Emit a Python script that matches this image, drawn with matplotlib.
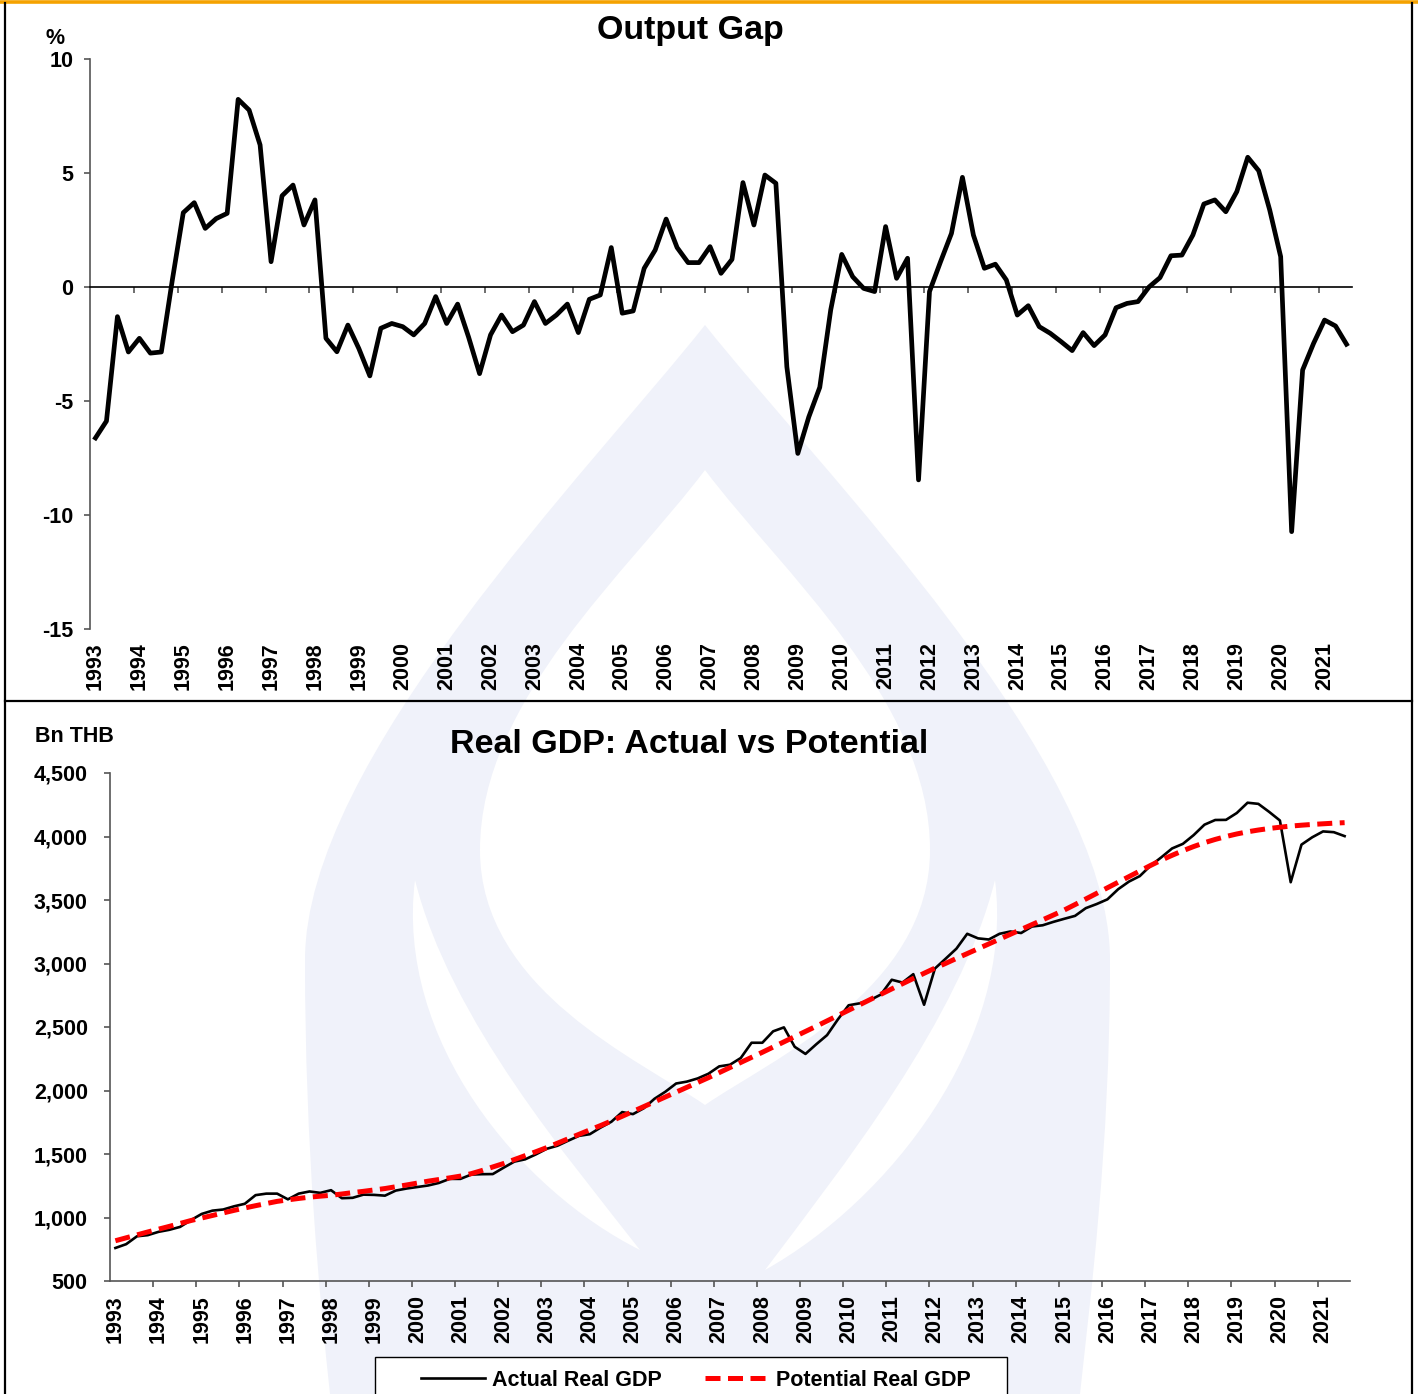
import numpy as np
import matplotlib
matplotlib.use('Agg')
import matplotlib.pyplot as plt
from matplotlib.path import Path
from matplotlib.patches import PathPatch, Rectangle
import matplotlib.transforms as mtransforms
from matplotlib.ticker import FuncFormatter

plt.rcParams['font.family'] = ['Liberation Sans', 'DejaVu Sans']
plt.rcParams['font.weight'] = 'bold'

# ---------------- data (quarterly, 1993Q1 - 2021Q3) ----------------
years = [str(y) for y in range(1993, 2022)]

output_gap = [
    -6.62, -5.88, -1.30, -2.85, -2.25, -2.90, -2.85, 0.30, 3.26, 3.70,
    2.57, 3.00, 3.23, 8.23, 7.76, 6.23, 1.11, 4.00, 4.47, 2.72,
    3.82, -2.25, -2.84, -1.67, -2.70, -3.90, -1.81, -1.60, -1.74, -2.10,
    -1.60, -0.42, -1.60, -0.75, -2.20, -3.80, -2.10, -1.23, -1.96, -1.67,
    -0.64, -1.60, -1.23, -0.75, -2.00, -0.54, -0.35, 1.73, -1.15, -1.05,
    0.82, 1.62, 2.98, 1.73, 1.07, 1.07, 1.77, 0.60, 1.21, 4.58,
    2.72, 4.91, 4.55, -3.50, -7.30, -5.70, -4.40, -1.00, 1.43, 0.45,
    -0.06, -0.20, 2.65, 0.38, 1.26, -8.46, -0.20, 1.10, 2.35, 4.81,
    2.28, 0.82, 1.00, 0.31, -1.23, -0.82, -1.74, -2.03, -2.40, -2.79,
    -2.00, -2.57, -2.10, -0.91, -0.72, -0.64, 0.00, 0.41, 1.37, 1.40,
    2.28, 3.64, 3.82, 3.30, 4.18, 5.69, 5.10, 3.38, 1.33, -10.73,
    -3.64, -2.47, -1.45, -1.71, -2.51,
]

potential_gdp = [
    817, 840, 863, 886, 908, 930, 953, 976, 996, 1016,
    1036, 1056, 1075, 1093, 1110, 1127, 1139, 1150, 1160, 1168,
    1175, 1185, 1196, 1206, 1217, 1228, 1242, 1256, 1271, 1286,
    1299, 1312, 1326, 1345, 1370, 1398, 1425, 1456, 1487, 1518,
    1550, 1585, 1620, 1655, 1690, 1724, 1760, 1797, 1835, 1873,
    1911, 1949, 1987, 2025, 2063, 2101, 2141, 2181, 2221, 2261,
    2301, 2342, 2383, 2424, 2465, 2506, 2548, 2590, 2632, 2674,
    2716, 2758, 2800, 2841, 2882, 2923, 2963, 3001, 3040, 3078,
    3116, 3154, 3192, 3230, 3268, 3306, 3344, 3382, 3421, 3464,
    3508, 3552, 3596, 3640, 3684, 3728, 3772, 3814, 3852, 3888,
    3921, 3951, 3977, 4000, 4020, 4037, 4051, 4063, 4073, 4082,
    4089, 4095, 4100, 4105, 4109,
]

actual_gdp = [
    760, 790, 852, 861, 887, 903, 926, 979, 1028, 1054,
    1063, 1088, 1108, 1176, 1188, 1188, 1143, 1188, 1205, 1194,
    1215, 1152, 1155, 1180, 1178, 1172, 1212, 1228, 1240, 1252,
    1272, 1304, 1304, 1338, 1341, 1342, 1392, 1440, 1458, 1497,
    1541, 1565, 1605, 1643, 1656, 1708, 1754, 1830, 1814, 1860,
    1935, 1990, 2055, 2070, 2095, 2132, 2190, 2203, 2256, 2376,
    2376, 2466, 2497, 2344, 2288, 2364, 2436, 2559, 2671, 2686,
    2712, 2756, 2872, 2850, 2916, 2675, 2960, 3038, 3117, 3234,
    3198, 3189, 3234, 3252, 3240, 3291, 3301, 3328, 3352, 3375,
    3436, 3468, 3505, 3585, 3645, 3688, 3770, 3836, 3906, 3942,
    4011, 4093, 4130, 4131, 4185, 4266, 4257, 4194, 4126, 3640,
    3936, 3994, 4040, 4034, 4003,
]

n = len(output_gap)
xq = np.arange(n)
label_pos = np.arange(0, n, 4)
boundaries = np.arange(3.5, n - 1, 4)

W, H = 1418, 1394
fig = plt.figure(figsize=(W / 100, H / 100), dpi=100)
fig.patch.set_facecolor('white')


def fx(px):
    return px / W


def fy(py):
    return 1 - py / H


# ---------------- background: watermark + frame ----------------
bg = fig.add_axes([0, 0, 1, 1], zorder=0)
bg.set_xlim(0, W)
bg.set_ylim(H, 0)
bg.axis('off')

WM = '#F0F2FA'
C4 = Path.CURVE4
outer = Path(
    [(705, 325), (820, 470), (1110, 760), (1110, 960),
     (1110, 1150), (1090, 1300), (1080, 1394),
     (330, 1394),
     (320, 1300), (305, 1150), (305, 960),
     (305, 760), (590, 470), (705, 325), (705, 325)],
    [Path.MOVETO, C4, C4, C4, C4, C4, C4, Path.LINETO, C4, C4, C4, C4, C4, C4,
     Path.CLOSEPOLY])
bg.add_patch(PathPatch(outer, facecolor=WM, edgecolor='none'))

inner = Path(
    [(705, 470), (780, 570), (930, 700), (930, 850),
     (930, 990), (770, 1060), (705, 1105),
     (640, 1060), (480, 990), (480, 850),
     (480, 700), (630, 570), (705, 470), (705, 470)],
    [Path.MOVETO, C4, C4, C4, C4, C4, C4, C4, C4, C4, C4, C4, C4,
     Path.CLOSEPOLY])
bg.add_patch(PathPatch(inner, facecolor='white', edgecolor='none'))

left_arm = Path(
    [(415, 880), (395, 1040), (520, 1190), (640, 1250),
     (570, 1160), (450, 1020), (415, 880), (415, 880)],
    [Path.MOVETO, C4, C4, C4, C4, C4, C4, Path.CLOSEPOLY])
right_arm = Path(
    [(995, 880), (1015, 1040), (890, 1200), (765, 1270),
     (840, 1170), (960, 1020), (995, 880), (995, 880)],
    [Path.MOVETO, C4, C4, C4, C4, C4, C4, Path.CLOSEPOLY])
bg.add_patch(PathPatch(left_arm, facecolor='white', edgecolor='none'))
bg.add_patch(PathPatch(right_arm, facecolor='white', edgecolor='none'))

bg.plot([0, W], [1.5, 1.5], color='#F5A200', lw=2.6, solid_capstyle='butt')
bg.plot([5, 5], [3, H], color='black', lw=1.6)
bg.plot([1412, 1412], [3, H], color='black', lw=1.6)
bg.plot([5, 1412], [701, 701], color='black', lw=1.6)

SPINE = '#555555'
FS = 15.5

# ---------------- top panel: output gap ----------------
ax1 = fig.add_axes([fx(90), fy(629), fx(1352) - fx(90), (629 - 59) / H], zorder=2)
ax1.set_facecolor('none')
ax1.plot(xq, output_gap, color='black', lw=3.4, solid_joinstyle='round')
ax1.set_xlim(-0.5, n - 0.5)
ax1.set_ylim(-15, 10)
ax1.set_yticks(range(-15, 11, 5))
ax1.set_yticklabels([str(v) for v in range(-15, 11, 5)])
for s in ('top', 'right'):
    ax1.spines[s].set_visible(False)
ax1.spines['left'].set_color(SPINE)
ax1.spines['left'].set_linewidth(1.2)
ax1.spines['bottom'].set_position(('data', 0))
ax1.spines['bottom'].set_color('black')
ax1.spines['bottom'].set_linewidth(1.2)
ax1.set_xticks([])
ax1.set_xticks(boundaries, minor=True)
ax1.tick_params(axis='x', which='minor', direction='out', length=4, width=1.2,
                color=SPINE, labelbottom=False)
ax1.tick_params(axis='y', direction='out', length=4, width=1.2, color=SPINE,
                labelsize=FS, pad=8)
trans1 = mtransforms.blended_transform_factory(ax1.transData, ax1.transAxes)
for p, yr in zip(label_pos, years):
    ax1.text(p, -13 / 570, yr, transform=trans1, rotation=90, ha='center',
             va='top', fontsize=FS, fontweight='bold')

fig.text(fx(690), fy(39), 'Output Gap', ha='center', va='baseline',
         fontsize=24.5, fontweight='bold')
fig.text(fx(55), fy(38), '%', ha='center', va='center', fontsize=FS,
         fontweight='bold')

# ---------------- bottom panel: real GDP ----------------
ax2 = fig.add_axes([fx(110), fy(1281), fx(1350) - fx(110), (1281 - 773) / H], zorder=2)
ax2.set_facecolor('none')
l1, = ax2.plot(xq, actual_gdp, color='black', lw=1.9, label='Actual Real GDP')
l2, = ax2.plot(xq, potential_gdp, color='#FF0000', lw=3.6, dashes=(3, 1.5),
               label='Potential Real GDP')
ax2.set_xlim(-0.5, n - 0.5)
ax2.set_ylim(500, 4500)
ax2.set_yticks(range(500, 4501, 500))
ax2.yaxis.set_major_formatter(FuncFormatter(lambda v, p: f'{int(v):,}'))
for s in ('top', 'right'):
    ax2.spines[s].set_visible(False)
for s in ('left', 'bottom'):
    ax2.spines[s].set_color(SPINE)
    ax2.spines[s].set_linewidth(1.2)
ax2.set_xticks(label_pos)
ax2.set_xticklabels(years, rotation=90)
ax2.set_xticks(boundaries, minor=True)
ax2.tick_params(axis='x', which='major', length=0, pad=10, labelsize=FS)
ax2.tick_params(axis='x', which='minor', direction='out', length=4, width=1.2,
                color=SPINE)
ax2.tick_params(axis='y', direction='out', length=4, width=1.2, color=SPINE,
                labelsize=FS, pad=12)

fig.text(fx(689), fy(753), 'Real GDP: Actual vs Potential', ha='center',
         va='baseline', fontsize=24.5, fontweight='bold')
fig.text(fx(35), fy(736), 'Bn THB', ha='left', va='center', fontsize=FS,
         fontweight='bold')

# legend
bg.add_patch(Rectangle((375, 1357), 632, 60, facecolor='white',
                       edgecolor='black', lw=1.0, zorder=3))
leg = fig.legend(handles=[l1, l2], loc='upper left',
                 bbox_to_anchor=(fx(410), fy(1359)), ncol=2, frameon=False,
                 borderpad=0, handlelength=3.0, handletextpad=0.3,
                 columnspacing=2.0, prop={'size': FS, 'weight': 'bold'})
leg.set_zorder(5)

fig.savefig('out.png', dpi=100, facecolor='white')
